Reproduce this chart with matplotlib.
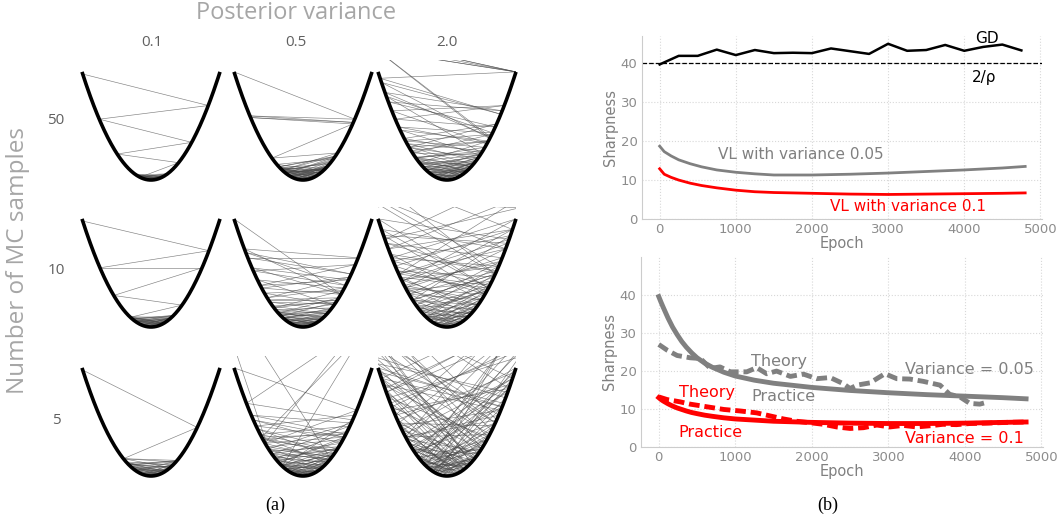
import numpy as np
import matplotlib.pyplot as plt
from matplotlib.collections import LineCollection

# ---- left panel: iterates on the quadratic ----
mc_samples = ["50", "10", "5"]
post_vars = ["0.1", "0.5", "2.0"]

s50_01 = [-0.99, 0.83, -0.75, 0.59, -0.49, 0.40, -0.16, 0.24, -0.21, 0.14, -0.19, 0.22, -0.08,
          0.17, -0.24, 0.10, -0.15, 0.20, -0.04, 0.13, -0.22, 0.09, -0.12, 0.18, -0.17, 0.06,
          -0.20, 0.21, -0.10, 0.15, -0.13, 0.03, -0.18, 0.12, -0.07, 0.19]
s50_05 = [-1.0, 0.75, -0.77, 0.73, -0.76, 0.72, -0.45, 0.5, -0.3, 0.47, -0.35, 0.46, -0.25, 0.44,
          -0.38, 0.3, -0.28, 0.42, -0.2, 0.35, -0.32, 0.25, -0.15, 0.4, -0.3, 0.2, -0.34, 0.38,
          -0.1, 0.3, -0.25, 0.33, -0.18, 0.28, -0.35, 0.15, -0.22, 0.36, -0.05, 0.25, -0.3, 0.1,
          -0.2, 0.32, -0.27, 0.18, -0.12, 0.3, -0.33, 0.22, -0.08, 0.2, -0.25, 0.34, -0.15, 0.12,
          -0.3, 0.26, -0.2, 0.05]
s50_20 = [-1.12, 1.0, -1.1, 1.0, -1.14, 1.0, -0.97, 0.78, -0.95, 0.62, -1.12, 0.63, -0.9, 0.8,
          -0.85, 0.7, -0.75, 0.83, -0.8, 0.58, -0.7, 0.66, -0.88, 0.5, -0.62, 0.72, -0.55, 0.6,
          -0.68, 0.48, -0.5, 0.65, -0.6, 0.55, -0.45, 0.52, -0.58, 0.42, -0.4, 0.6, -0.52, 0.35,
          -0.46, 0.5, -0.3, 0.45, -0.55, 0.38, -0.35, 0.48, -0.42, 0.3, -0.25, 0.46, -0.38, 0.4,
          -0.2, 0.35, -0.45, 0.28, -0.33, 0.42, -0.15, 0.32, -0.4, 0.25, -0.28, 0.38, -0.1, 0.3,
          -0.36, 0.2, -0.22, 0.4, -0.3, 0.15, -0.25, 0.33, -0.05, 0.27, -0.32, 0.22, -0.18, 0.36,
          -0.26, 0.12, -0.2, 0.3, -0.12, 0.24]
s10_01 = [-0.99, 0.84, -0.74, 0.74, -0.54, 0.45, -0.30, 0.31, -0.27, 0.33, -0.22, 0.28, -0.31,
          0.18, -0.25, 0.30, -0.12, 0.24, -0.29, 0.20, -0.18, 0.26, -0.08, 0.22, -0.28, 0.15,
          -0.21, 0.29, -0.14, 0.19, -0.26, 0.10, -0.17, 0.27, -0.23, 0.12, -0.05, 0.21, -0.24, 0.16]
s10_05 = [-1.0, 0.55, -0.85, 0.80, -0.80, 0.70, -0.83, 0.62, -0.72, 0.76, -0.62, 0.66, -0.74,
          0.55, -0.60, 0.68, -0.52, 0.60, -0.66, 0.45, -0.56, 0.58, -0.42, 0.50, -0.50, 0.52,
          -0.36, 0.46, -0.48, 0.40, -0.32, 0.48, -0.44, 0.35, -0.40, 0.42, -0.28, 0.38, -0.35,
          0.30, -0.38, 0.25, -0.30, 0.36, -0.22, 0.32, -0.34, 0.20, -0.26, 0.30, -0.18, 0.28,
          -0.30, 0.15, -0.24, 0.26, -0.12, 0.22, -0.28, 0.18, -0.20, 0.10, -0.16, 0.24, -0.08,
          0.20, -0.22, 0.12, -0.14, 0.05]
s10_20 = [-1.05, 1.2, -0.9, 1.05, -1.08, 0.7, -1.2, 0.95, -0.85, 1.1, -0.7, 0.9, -1.0, 0.6,
          -0.95, 0.85, -1.1, 0.75, -0.8, 1.0, -0.65, 0.88, -0.92, 0.55, -0.75, 0.95, -0.6, 0.8,
          -0.88, 0.7, -0.5, 0.92, -0.78, 0.62, -0.7, 0.85, -0.55, 0.72, -0.82, 0.5, -0.62, 0.78,
          -0.45, 0.68, -0.72, 0.58, -0.4, 0.75, -0.66, 0.45, -0.58, 0.65, -0.35, 0.6, -0.68, 0.4,
          -0.5, 0.7, -0.3, 0.55, -0.6, 0.35, -0.42, 0.62, -0.25, 0.5, -0.55, 0.3, -0.38, 0.58,
          -0.2, 0.45, -0.5, 0.25, -0.32, 0.52, -0.15, 0.4, -0.45, 0.2, -0.28, 0.48, -0.1, 0.35,
          -0.4, 0.15, -0.22, 0.42, -0.05, 0.3, -0.35, 0.12, -0.18, 0.38, -0.3, 0.22, -0.12, 0.33,
          -0.25, 0.08]
s5_01 = [-0.99, 0.67, -0.40, 0.38, -0.32, 0.36, -0.40, 0.28, -0.34, 0.37, -0.22, 0.32, -0.36,
         0.18, -0.30, 0.34, -0.12, 0.27, -0.33, 0.22, -0.25, 0.31, -0.16, 0.12, -0.28, 0.30,
         -0.06, 0.22, -0.31, 0.14, -0.20, 0.26, -0.10, 0.18, -0.24, 0.08, -0.15, 0.21, -0.27,
         0.11, -0.05, 0.16]
s5_05 = [-1.0, 0.78, -0.55, 1.35, -0.3, 0.72, -0.82, 1.25, -0.6, 0.62, -0.75, 0.7, -0.5, -1.4,
         0.4, 0.75, -0.68, 0.6, -0.72, 0.55, -0.45, 0.68, -0.62, 0.48, -0.58, 0.64, -0.4, 0.5,
         -0.66, 0.42, -0.52, 0.58, -0.35, 0.6, -0.55, 0.38, -0.48, 0.52, -0.3, 0.45, -0.6, 0.35,
         -0.42, 0.5, -0.25, 0.42, -0.5, 0.3, -0.38, 0.47, -0.2, 0.4, -0.45, 0.25, -0.32, 0.44,
         -0.15, 0.36, -0.4, 0.2, -0.28, 0.4, -0.1, 0.32, -0.36, 0.15, -0.24, 0.35, -0.05, 0.28,
         -0.33, 0.1, -0.2, 0.3, -0.26, 0.18, -0.12, 0.26, -0.3, 0.05, -0.16, 0.22, -0.22, 0.12,
         -0.08, 0.2]
s5_20 = [-1.3, 0.9, -0.4, 1.25, -0.95, 0.3, -1.15, 0.75, -0.6, 1.35, -0.2, 0.85, -1.05, 0.5,
         -0.8, 1.1, -0.35, 0.65, -1.25, 0.95, -0.55, 0.25, -0.9, 1.2, -0.7, 0.4, -1.0, 0.8,
         -0.15, 1.05, -0.85, 0.6, -1.2, 0.35, -0.5, 0.92, -0.75, 1.3, -0.3, 0.7, -1.1, 0.45,
         -0.65, 1.0, -0.25, 0.55, -0.98, 0.82, -0.45, 1.15, -0.88, 0.2, -0.6, 0.72, -1.35, 0.5,
         -0.38, 0.98, -0.72, 0.3, -0.52, 0.88, -1.02, 0.62, -0.28, 0.4, -0.82, 1.08, -0.42, 0.15,
         -0.68, 0.78, -0.92, 0.58, -0.18, 0.95, -0.62, 0.35, -1.18, 0.7, -0.48, 0.25, -0.78, 0.9,
         -0.32, 0.48, -0.58, 1.22, -0.88, 0.42, -0.22, 0.68, -0.7, 0.12, -0.45, 0.8, -0.95, 0.52,
         -0.35, 0.3, -0.6, 0.62, -0.12, 0.45, -0.5, 0.18, -0.4, 0.58, -0.3, 0.22, -0.55, 0.38,
         -0.08, 0.5, -0.42, 0.1, -0.28, 0.35, -0.2, 0.28, -0.36, 0.05, -0.15, 0.4, -0.25, 0.15]

iterates = [[s50_01, s50_05, s50_20],
            [s10_01, s10_05, s10_20],
            [s5_01, s5_05, s5_20]]

# ---- right panel: sharpness curves ----
gd_epoch = [0, 250, 500, 750, 1000, 1250, 1500, 1750, 2000, 2250, 2500, 2750, 3000, 3250,
            3500, 3750, 4000, 4250, 4500, 4750]
gd_sharp = [39.7, 41.9, 41.9, 43.5, 42.1, 43.4, 42.6, 42.7, 42.6, 43.8, 43.1, 42.4, 45.0, 43.2,
            43.4, 44.7, 43.2, 44.2, 44.8, 43.3]
stab_limit = 40

vl_epoch = [0, 60, 150, 250, 400, 550, 750, 1000, 1250, 1500, 2000, 2500, 3000, 3500, 4000,
            4500, 4800]
vl_005 = [18.7, 17.3, 16.2, 15.2, 14.2, 13.4, 12.6, 12.0, 11.6, 11.3, 11.3, 11.5, 11.8, 12.2,
          12.6, 13.1, 13.5]
vl_01 = [12.9, 11.5, 10.7, 10.0, 9.2, 8.6, 8.0, 7.4, 7.0, 6.8, 6.6, 6.4, 6.3, 6.4, 6.5, 6.6, 6.7]

prac_epoch = [0, 30, 60, 120, 180, 240, 300, 360, 430, 500, 600, 700, 850, 1000, 1250, 1500,
              2000, 2500, 3000, 3500, 4000, 4500, 4800]
prac_005 = [39.5, 38.0, 36.6, 33.9, 31.5, 29.5, 27.7, 26.2, 24.7, 23.4, 22.0, 20.9, 19.6, 18.6,
            17.5, 16.7, 15.6, 14.8, 14.2, 13.7, 13.3, 12.9, 12.6]
prac_01 = [12.9, 12.4, 12.0, 11.3, 10.7, 10.2, 9.8, 9.4, 9.0, 8.7, 8.3, 8.0, 7.6, 7.3, 7.0, 6.7,
           6.4, 6.2, 6.1, 6.1, 6.2, 6.4, 6.5]

theo005_epoch = [0, 110, 240, 410, 545, 675, 800, 935, 1150, 1280, 1410, 1540, 1720, 1890,
                 2065, 2240, 2410, 2500, 2590, 2760, 2955, 3110, 3280, 3455, 3675, 3800, 3935,
                 4065, 4195, 4305]
theo_005 = [26.9, 25.4, 24.0, 23.4, 23.2, 20.6, 21.0, 19.7, 19.7, 20.8, 19.2, 19.9, 18.5, 19.1,
            17.9, 18.2, 16.6, 15.3, 16.2, 16.8, 19.2, 17.9, 17.8, 17.2, 16.2, 13.8, 13.1, 11.4,
            11.2, 11.8]
theo01_epoch = [0, 110, 280, 410, 630, 850, 1065, 1280, 1455, 1630, 1800, 1980, 2150, 2325,
                2500, 2675, 2850, 3020, 3195, 3370, 3540, 3715, 3890, 4065, 4300, 4550, 4800]
theo_01 = [13.1, 12.4, 11.8, 11.2, 10.5, 9.8, 9.4, 8.9, 8.1, 7.3, 6.7, 6.3, 5.9, 5.2, 4.8, 5.0,
           5.7, 5.2, 5.6, 5.2, 5.5, 5.9, 5.8, 6.1, 6.2, 6.4, 6.5]

GRAY = "#808080"
RED = "#ff0000"
LIGHT = "#a6a6a6"

fig = plt.figure(figsize=(10.58, 5.25), dpi=100)

# left grid of parabolas
col_left = [82, 234, 378]
row_bottom = [180, 327, 476]
W, H = 1058, 525
xs = np.linspace(-1, 1, 200)
for r in range(3):
    for c in range(3):
        ax = fig.add_axes([col_left[c] / W, 1 - row_bottom[r] / H, 138 / W, 120 / H])
        seq = iterates[r][c]
        segs = [[(a, a * a), (b, b * b)] for a, b in zip(seq[:-1], seq[1:])]
        ax.add_collection(LineCollection(segs, colors="#4a4a4a", linewidths=0.45, alpha=0.7))
        ax.plot(xs, xs ** 2, color="black", lw=2.6, clip_on=False, solid_capstyle="butt")
        ax.set_xlim(-1, 1)
        ax.set_ylim(0, 1.11)
        ax.axis("off")

lfont = "Open Sans"
fig.text(296 / W, 1 - 13 / H, "Posterior variance", ha="center", va="center",
         fontsize=17, color=LIGHT, family=lfont)
for x, lab in zip([152, 296, 447], post_vars):
    fig.text(x / W, 1 - 43 / H, lab, ha="center", va="center", fontsize=11,
             color="#606060", family=lfont)
for y, lab in zip([120, 270, 420], mc_samples):
    fig.text(56 / W, 1 - y / H, lab, ha="center", va="center", fontsize=11,
             color="#606060", family=lfont)
fig.text(18 / W, 1 - 260 / H, "Number of MC samples", ha="center", va="center",
         rotation=90, fontsize=17.5, color=LIGHT, family=lfont)

fig.text(275 / W, 1 - 505 / H, "(a)", ha="center", va="center", fontsize=13,
         family="Liberation Serif")
fig.text(828 / W, 1 - 505 / H, "(b)", ha="center", va="center", fontsize=13,
         family="Liberation Serif")


def style(ax, ytop):
    ax.set_xlim(-236, 5017)
    ax.set_ylim(0, ytop)
    ax.set_xticks([0, 1000, 2000, 3000, 4000, 5000])
    ax.set_yticks([0, 10, 20, 30, 40])
    ax.grid(True, ls=":", color="#d8d8d8", lw=0.8)
    ax.set_axisbelow(True)
    for s in ["top", "right"]:
        ax.spines[s].set_visible(False)
    for s in ["left", "bottom"]:
        ax.spines[s].set_color("#cccccc")
    ax.tick_params(length=0, labelsize=9.5, labelcolor="#8c8c8c", pad=3)
    ax.set_xlabel("Epoch", fontsize=10.5, color=GRAY, labelpad=0)
    ax.set_ylabel("Sharpness", fontsize=10.5, color=GRAY, labelpad=2)


# top right
ax1 = fig.add_axes([641.7 / W, 1 - 219 / H, 400 / W, 183 / H])
style(ax1, 47)
ax1.plot(gd_epoch, gd_sharp, color="black", lw=1.8)
ax1.axhline(stab_limit, color="black", ls="--", lw=0.9)
ax1.plot(vl_epoch, vl_005, color=GRAY, lw=2)
ax1.plot(vl_epoch, vl_01, color=RED, lw=2)
ax1.text(4300, 46.3, "GD", ha="center", va="center", fontsize=11, color="black")
ax1.text(4265, 36.3, "2/ρ", ha="center", va="center", fontsize=11, color="black")
ax1.text(770, 16.6, "VL with variance 0.05", ha="left", va="center", fontsize=11, color=GRAY)
ax1.text(2237, 3.1, "VL with variance 0.1", ha="left", va="center", fontsize=11, color=RED)

# bottom right
ax2 = fig.add_axes([640.7 / W, 1 - 446.7 / H, 402 / W, 190 / H])
style(ax2, 50)
ax2.plot(prac_epoch, prac_005, color=GRAY, lw=3.5)
ax2.plot(theo005_epoch, theo_005, color=GRAY, lw=3.5, ls=(0, (2.2, 1.0)))
ax2.plot(prac_epoch, prac_01, color=RED, lw=3.5)
ax2.plot(theo01_epoch, theo_01, color=RED, lw=3.5, ls=(0, (2.2, 1.0)))
ax2.text(1209, 22.3, "Theory", ha="left", va="center", fontsize=11.5, color=GRAY)
ax2.text(1209, 13.1, "Practice", ha="left", va="center", fontsize=11.5, color=GRAY)
ax2.text(3217, 20.4, "Variance = 0.05", ha="left", va="center", fontsize=11.5, color=GRAY)
ax2.text(261, 14.2, "Theory", ha="left", va="center", fontsize=11.5, color=RED)
ax2.text(261, 3.7, "Practice", ha="left", va="center", fontsize=11.5, color=RED)
ax2.text(3217, 2.2, "Variance = 0.1", ha="left", va="center", fontsize=11.5, color=RED)

fig.savefig("out.png", dpi=100)
